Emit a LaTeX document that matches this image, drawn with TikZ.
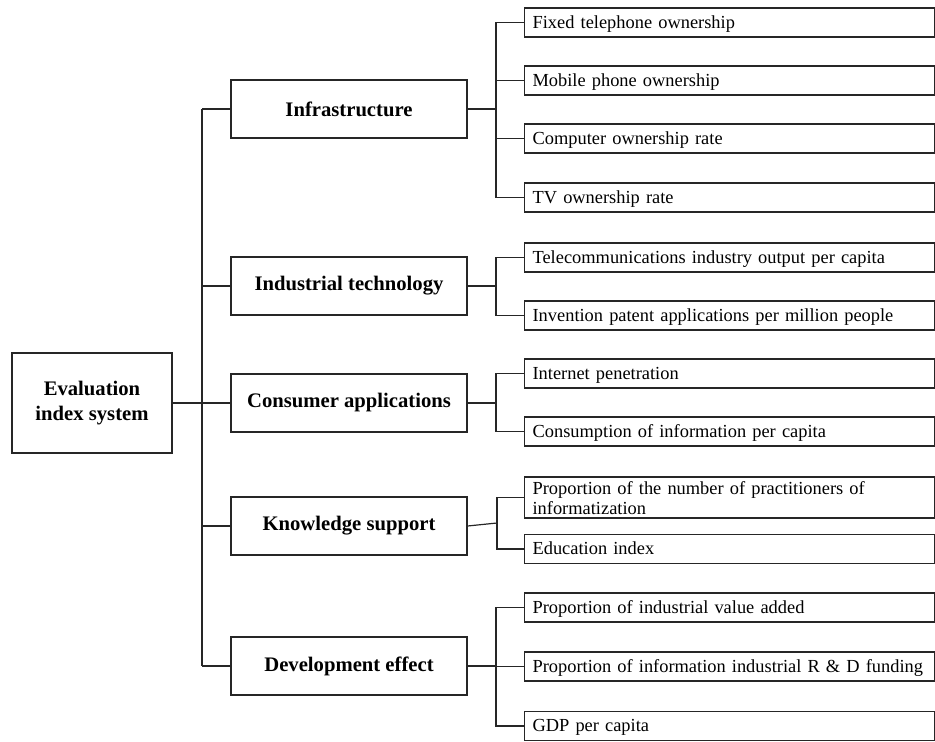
\documentclass[tikz,border=0pt]{standalone}
\usepackage{fontspec}
\setmainfont{Liberation Serif}
\hyphenpenalty=10000
\exhyphenpenalty=10000
\begin{document}
\begin{tikzpicture}[x=0.75pt,y=-0.75pt,
  line/.style={draw=black!85, line width=0.9pt},
  rootbox/.style={line, minimum width=120pt, minimum height=75pt, inner sep=0pt,
     align=center, font=\fontsize{15.5}{18.75}\selectfont\bfseries},
  midbox/.style={line, minimum width=177pt, minimum height=43.5pt, inner sep=0pt,
     align=center, font=\fontsize{15.5}{18.75}\selectfont\bfseries},
  leafbase/.style={line, anchor=west, inner xsep=6pt, inner ysep=2pt,
     text width=295.5pt, align=left,
     font=\fontsize{13.8}{15}\selectfont},
  leafbox/.style={leafbase, minimum height=21.75pt, text height=10pt, text depth=1.3pt},
  leaftwo/.style={leafbase, minimum height=30.75pt}]
\useasboundingbox (0,0) rectangle (935,742);

\node[rootbox] (root) at (92,403) {Evaluation\\index system};

\node[midbox] (m1) at (349,109) {Infrastructure};
\node[midbox] (m2) at (349,286) {Industrial technology};
\node[midbox] (m3) at (349,403) {Consumer applications};
\node[midbox] (m4) at (349,526) {Knowledge support};
\node[midbox] (m5) at (349,666) {Development effect};

\node[leafbox] (a1) at (524,22.5) {Fixed telephone ownership};
\node[leafbox] (a2) at (524,80.5) {Mobile phone ownership};
\node[leafbox] (a3) at (524,138.5) {Computer ownership rate};
\node[leafbox] (a4) at (524,197.5) {TV ownership rate};

\node[leafbox] (b1) at (524,257.5) {Telecommunications industry output per capita};
\node[leafbox] (b2) at (524,315.5) {Invention patent applications per million people};

\node[leafbox] (c1) at (524,373.5) {Internet penetration};
\node[leafbox] (c2) at (524,431.5) {Consumption of information per capita};

\node[leaftwo] (d1) at (524,497.5) {\rule{0pt}{11pt}Proportion of the number of practitioners of\\informatization};
\node[leafbox] (d2) at (524,549) {Education index};

\node[leafbox] (e1) at (524,607.5) {Proportion of industrial value added};
\node[leafbox] (e2) at (524,666.5) {Proportion of information industrial R \& D funding};
\node[leafbox] (e3) at (524,726) {GDP per capita};

% trunk
\coordinate (t1) at (202,109);
\coordinate (t5) at (202,666);
\coordinate (tr) at (202,403);
\draw[line] (t1) -- (t5);
\draw[line] (root.east) -- (tr);
\foreach \m in {m1,m2,m3,m4,m5} \draw[line] (\m.west) -- (\m.west -| tr);

% brackets
\coordinate (bx) at (496,0);
\draw[line] (a1.west) -| (a4.west -| bx) -- (a4.west);
\foreach \a in {a2,a3} \draw[line] (\a.west) -- (\a.west -| bx);
\draw[line] (m1.east) -- (m1.east -| bx);

\draw[line] (b1.west) -| (b2.west -| bx) -- (b2.west);
\draw[line] (m2.east) -- (m2.east -| bx);

\draw[line] (c1.west) -| (c2.west -| bx) -- (c2.west);
\draw[line] (m3.east) -- (m3.east -| bx);

\coordinate (dk) at (497,523);
\draw[line] (d1.west) -| (d2.west -| dk) -- (d2.west);
\draw[line] (m4.east) -- (dk);

\draw[line] (e1.west) -| (e3.west -| bx) -- (e3.west);
\draw[line] (e2.west) -- (e2.west -| bx);
\draw[line] (m5.east) -- (m5.east -| bx);
\end{tikzpicture}
\end{document}
